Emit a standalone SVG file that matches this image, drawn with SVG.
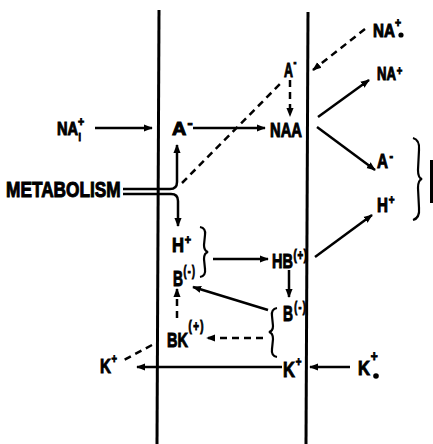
<svg xmlns="http://www.w3.org/2000/svg" width="433" height="444" viewBox="0 0 433 444">
<style>
.t{font-family:"Liberation Sans",Arial,sans-serif;font-weight:bold;fill:#000;stroke:#000;stroke-width:1}
.ln{stroke:#000;stroke-width:2.5;fill:none}
.d{stroke-dasharray:7,5}
.mem{stroke:#000;stroke-width:3;fill:none}
.br{stroke:#000;stroke-width:2.2;fill:none}
</style>
<defs>
<marker id="ah" viewBox="0 0 10 10" refX="9" refY="5" markerWidth="3.6" markerHeight="3.6" orient="auto" markerUnits="strokeWidth">
<path d="M0,1 L10,5 L0,9 z" fill="#000"/>
</marker>
</defs>
<rect width="433" height="444" fill="#fff"/>
<g id="membranes">
<path class="mem" d="M159,10 L157,444"/>
<path class="mem" d="M308,12 L306,444"/>
</g>
<g id="connectors">
<path class="ln" d="M95,128 H152" marker-end="url(#ah)"/>
<path class="ln" d="M193,128 H265" marker-end="url(#ah)"/>
<path class="ln d" d="M290,80 V116" marker-end="url(#ah)"/>
<path class="ln d" d="M182,183 L282,82"/>
<path class="ln d" d="M365,29 L313,70" marker-end="url(#ah)"/>
<path class="ln" d="M318,117 L369,80" marker-end="url(#ah)"/>
<path class="ln" d="M317,127 L375,170" marker-end="url(#ah)"/>
<path class="ln" d="M315,257 L372,215" marker-end="url(#ah)"/>
<path class="ln" d="M123,189 H170 Q177,189 177,182 V145" marker-end="url(#ah)"/>
<path class="ln" d="M123,194 H171 Q178,194 178,201 V226" marker-end="url(#ah)"/>
<path class="ln" d="M213,259 H268" marker-end="url(#ah)"/>
<path class="ln" d="M289,270 V297" marker-end="url(#ah)"/>
<path class="ln" d="M268,310 L193,287" marker-end="url(#ah)"/>
<path class="ln d" d="M263,338 H207" marker-end="url(#ah)"/>
<path class="ln d" d="M177,318 V289" marker-end="url(#ah)"/>
<path class="ln" d="M282,367 H137" marker-end="url(#ah)"/>
<path class="ln d" d="M152,345 L124,360"/>
<path class="ln" d="M350,367 H310" marker-end="url(#ah)"/>
</g>
<g id="na-i">
<text class="t" transform="translate(57,135) scale(0.81,1)" font-size="18">NA<tspan font-size="13" dy="-9">+</tspan><tspan font-size="11" dx="-7" dy="15">i</tspan></text>
</g>
<g id="a-left">
<text class="t" transform="translate(172,135) scale(1.1,1)" font-size="18">A<tspan font-size="14" dx="1" dy="-7">-</tspan></text>
</g>
<g id="naa">
<text class="t" transform="translate(270,137) scale(0.74,1)" font-size="20">NAA</text>
</g>
<g id="a-up">
<text class="t" transform="translate(284,77) scale(0.62,1)" font-size="20">A<tspan font-size="14" dx="1" dy="-10">-</tspan></text>
</g>
<g id="na-o">
<text class="t" transform="translate(373,37) scale(0.8,1)" font-size="19">NA<tspan font-size="13" dy="-10">+</tspan></text>
<circle cx="401" cy="35" r="2.6" fill="#000"/>
</g>
<g id="na-out">
<text class="t" transform="translate(377,80) scale(0.73,1)" font-size="18">NA<tspan font-size="13" dx="1" dy="-5">+</tspan></text>
</g>
<g id="a-right">
<text class="t" transform="translate(377,168) scale(0.76,1)" font-size="20">A<tspan font-size="14" dx="2" dy="-7">-</tspan></text>
</g>
<g id="h-right">
<text class="t" transform="translate(377,212) scale(0.76,1)" font-size="20">H<tspan font-size="13" dx="1" dy="-8">+</tspan></text>
</g>
<g id="metabolism">
<text class="t" transform="translate(6,197) scale(0.785,1)" font-size="22">METABOLISM</text>
</g>
<g id="h-left">
<text class="t" transform="translate(172,252) scale(0.83,1)" font-size="20">H<tspan font-size="13" dx="1" dy="-8">+</tspan></text>
</g>
<g id="b-left">
<text class="t" transform="translate(173,286) scale(0.63,1)" font-size="22">B<tspan font-size="14" letter-spacing="2" dx="1" dy="-10">(-)</tspan></text>
</g>
<path class="br" d="M200,227 Q206,228 205,235 L204,245 Q204,251 208,252 Q204,253 204,259 L205,269 Q206,276 200,277"/>
<g id="hb">
<text class="t" transform="translate(272,268) scale(0.69,1)" font-size="21">HB<tspan font-size="14" letter-spacing="1" dx="1" dy="-8">(+)</tspan></text>
</g>
<g id="b-right">
<text class="t" transform="translate(283,321) scale(0.63,1)" font-size="22">B<tspan font-size="14" letter-spacing="2" dx="2" dy="-9">(-)</tspan></text>
</g>
<path class="br" d="M277,308 Q271,309 272,316 L273,326 Q273,331 269,332 Q273,333 273,339 L272,349 Q271,356 277,357"/>
<g id="bk">
<text class="t" transform="translate(167,347) scale(0.69,1)" font-size="21">BK<tspan font-size="14" letter-spacing="2" dx="1" dy="-16">(+)</tspan></text>
</g>
<g id="k-in">
<text class="t" transform="translate(283,377) scale(0.75,1)" font-size="22">K<tspan font-size="13" dx="1" dy="-11">+</tspan></text>
</g>
<g id="k-left">
<text class="t" transform="translate(100,373) scale(0.72,1)" font-size="21">K<tspan font-size="13" dx="1" dy="-10">+</tspan></text>
</g>
<g id="k-o">
<text class="t" transform="translate(358,375) scale(0.79,1)" font-size="21">K<tspan font-size="15" dx="1" dy="-14">+</tspan></text>
<circle cx="376" cy="376" r="2.8" fill="#000"/>
</g>
<path class="br" d="M413,138 Q420,140 419,150 L418,170 Q418,178 422,179 Q418,180 418,188 L419,208 Q420,218 413,220"/>
<path d="M431.5,160 V203" stroke="#000" stroke-width="3"/>
</svg>
